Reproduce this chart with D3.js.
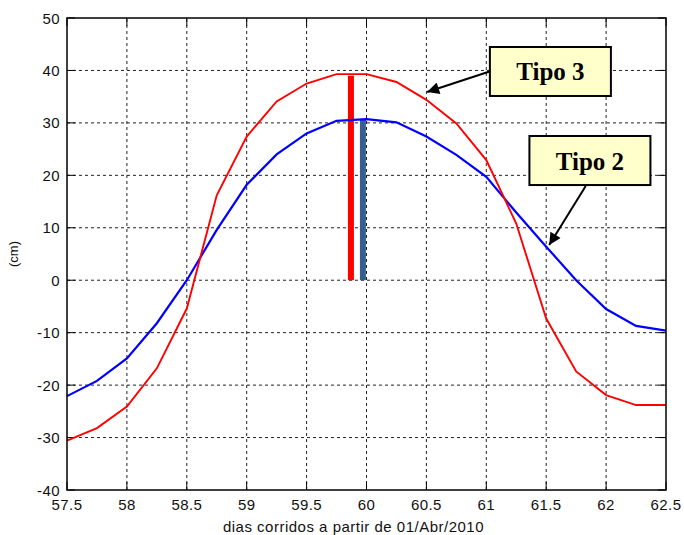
<!DOCTYPE html>
<html><head><meta charset="utf-8">
<script src="https://cdn.jsdelivr.net/npm/d3@7/dist/d3.min.js"></script>
<style>body{margin:0;background:#fff;} svg{display:block;}</style>
</head><body>
<script>
const days = [57.5,57.75,58,58.25,58.5,58.75,59,59.25,59.5,59.75,60,60.25,60.5,60.75,61,61.25,61.5,61.75,62,62.25,62.5];
const tipo3 = [-30.6,-28.2,-24.1,-16.8,-5.4,16.2,27.4,34.1,37.5,39.3,39.3,37.8,34.4,29.9,22.9,10.8,-7.3,-17.4,-21.9,-23.8,-23.8];
const tipo2 = [-22.1,-19.2,-14.9,-8.2,0.0,9.6,18.2,24.0,28.0,30.4,30.7,30.1,27.4,23.9,19.7,12.9,6.4,0.0,-5.5,-8.7,-9.6];
const barX = [59.87, 59.97];
const barTop = [39.0, 30.6];
const barColors = ["#ff0000", "#365f91"];
const xTicks = [57.5,58,58.5,59,59.5,60,60.5,61,61.5,62,62.5];
const yTicks = [-40,-30,-20,-10,0,10,20,30,40,50];
const labels = ["Tipo 3","Tipo 2"];
const boxX0 = [61.03, 61.36], boxX1 = [62.04, 62.37];
const boxY0 = [44.47, 27.5], boxY1 = [35.13, 18.15];
const arrTail = [[61.04,39.9],[61.83,17.96]];
const arrTip = [[60.506,35.9],[61.525,6.71]];

const W=684,H=535;
const m={l:67,r:18,t:18,b:45};
const svg=d3.select("body").append("svg").attr("width",W).attr("height",H);
const x=d3.scaleLinear().domain([57.5,62.5]).range([m.l,W-m.r]);
const y=d3.scaleLinear().domain([-40,50]).range([H-m.b,m.t]);

svg.append("defs").append("marker").attr("id","ah").attr("viewBox","0 0 10 10")
 .attr("refX",10).attr("refY",5).attr("markerWidth",8).attr("markerHeight",6)
 .attr("markerUnits","strokeWidth").attr("orient","auto")
 .append("path").attr("d","M0,0L10,5L0,10z").attr("fill","#000");

// grid
const g=svg.append("g");
g.selectAll(".gx").data(xTicks.slice(1,-1)).join("line")
 .attr("x1",d=>x(d)).attr("x2",d=>x(d)).attr("y1",y(-40)).attr("y2",y(50))
 .attr("stroke","#222").attr("stroke-width",1).attr("stroke-dasharray","3,3");
g.selectAll(".gy").data(yTicks.slice(1,-1)).join("line")
 .attr("y1",d=>y(d)).attr("y2",d=>y(d)).attr("x1",x(57.5)).attr("x2",x(62.5))
 .attr("stroke","#222").attr("stroke-width",1).attr("stroke-dasharray","3,3");

// ticks inward
const tl=8;
const tk=svg.append("g").attr("stroke","#000").attr("stroke-width",1);
xTicks.forEach(d=>{
  tk.append("line").attr("x1",x(d)).attr("x2",x(d)).attr("y1",y(-40)).attr("y2",y(-40)-tl);
  tk.append("line").attr("x1",x(d)).attr("x2",x(d)).attr("y1",y(50)).attr("y2",y(50)+tl);
});
yTicks.forEach(d=>{
  tk.append("line").attr("y1",y(d)).attr("y2",y(d)).attr("x1",x(57.5)).attr("x2",x(57.5)+tl);
  tk.append("line").attr("y1",y(d)).attr("y2",y(d)).attr("x1",x(62.5)).attr("x2",x(62.5)-tl);
});

// bars
svg.selectAll(".bar").data(barX).join("rect")
 .attr("x",(d)=>x(d)-3).attr("width",6)
 .attr("y",(d,i)=>y(barTop[i])).attr("height",(d,i)=>y(0)-y(barTop[i]))
 .attr("fill",(d,i)=>barColors[i]);

// lines
const line=d3.line().x((d,i)=>x(days[i])).y(d=>y(d));
svg.append("path").datum(tipo2).attr("d",line).attr("fill","none").attr("stroke","#0000ff").attr("stroke-width",2.2);
svg.append("path").datum(tipo3).attr("d",line).attr("fill","none").attr("stroke","#ff0000").attr("stroke-width",1.9);

// frame
svg.append("rect").attr("x",x(57.5)).attr("y",y(50)).attr("width",x(62.5)-x(57.5)).attr("height",y(-40)-y(50))
 .attr("fill","none").attr("stroke","#000").attr("stroke-width",1.5);

// tick labels
const font="'Liberation Sans', Arial, sans-serif";
svg.selectAll(".xl").data(xTicks).join("text")
 .attr("x",d=>x(d)).attr("y",y(-40)+20).attr("text-anchor","middle")
 .attr("font-family",font).attr("font-size",15).attr("letter-spacing",0.4).attr("fill","#111")
 .text(d=>d3.format("")(d));
svg.selectAll(".yl").data(yTicks).join("text")
 .attr("x",x(57.5)-7).attr("y",d=>y(d)+5.5).attr("text-anchor","end")
 .attr("font-family",font).attr("font-size",15).attr("letter-spacing",0.4).attr("fill","#111")
 .text(d=>d);
svg.append("text").attr("x",(x(57.5)+x(62.5))/2-13).attr("y",H-3).attr("text-anchor","middle")
 .attr("font-family",font).attr("font-size",15).attr("letter-spacing",0.5).attr("fill","#111")
 .text("dias corridos a partir de 01/Abr/2010");
svg.append("text").attr("transform",`translate(18,254) rotate(-90)`)
 .attr("text-anchor","middle").attr("font-family",font).attr("font-size",13).attr("fill","#111")
 .text("(cm)");

// annotations
labels.forEach((t,i)=>{
  svg.append("line").attr("x1",x(arrTail[i][0])).attr("y1",y(arrTail[i][1]))
   .attr("x2",x(arrTip[i][0])).attr("y2",y(arrTip[i][1]))
   .attr("stroke","#000").attr("stroke-width",2).attr("marker-end","url(#ah)");
  svg.append("rect").attr("x",x(boxX0[i])).attr("y",y(boxY0[i]))
   .attr("width",x(boxX1[i])-x(boxX0[i])).attr("height",y(boxY1[i])-y(boxY0[i]))
   .attr("fill","#ffffcc").attr("stroke","#000").attr("stroke-width",2);
  svg.append("text").attr("x",(x(boxX0[i])+x(boxX1[i]))/2).attr("y",(y(boxY0[i])+y(boxY1[i]))/2+9)
   .attr("text-anchor","middle").attr("font-family","'Liberation Serif', 'Times New Roman', serif")
   .attr("font-weight","bold").attr("font-size",25).attr("fill","#000").text(t);
});
</script>
</body></html>
